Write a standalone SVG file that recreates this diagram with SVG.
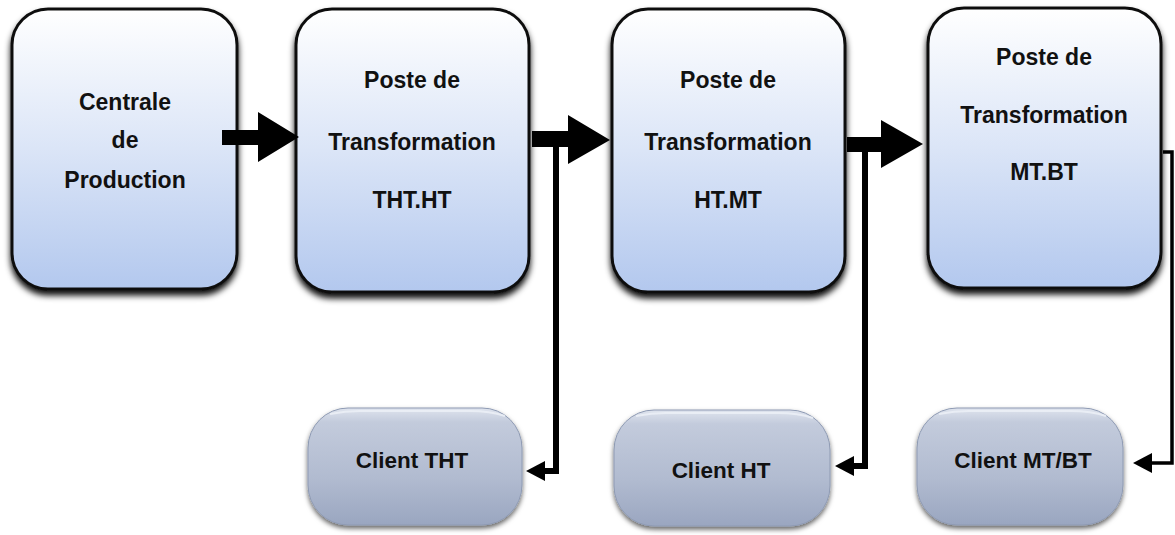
<svg xmlns="http://www.w3.org/2000/svg" width="1175" height="535" viewBox="0 0 1175 535">
<style>
.box{fill:url(#gBox);stroke:#111;stroke-width:3;filter:url(#sh)}
.cli{fill:url(#gCli);stroke:#8e9ab3;stroke-width:1;filter:url(#sh2)}
.hl{fill:none;stroke:#eef1f7;stroke-width:2;opacity:0.8}
text{font-family:"Liberation Sans",Arial,sans-serif;font-weight:bold;font-size:23px;fill:#111;text-anchor:middle}
.c{font-size:22.5px}
.arr{fill:#000}
.ln{fill:none;stroke:#000;stroke-width:6}
.ln2{fill:none;stroke:#000;stroke-width:3.5}
</style>
<defs>
<linearGradient id="gBox" x1="0" y1="0" x2="0" y2="1">
<stop offset="0" stop-color="#ffffff"/>
<stop offset="0.5" stop-color="#dbe5f7"/>
<stop offset="1" stop-color="#b3c8ee"/>
</linearGradient>
<linearGradient id="gCli" x1="0" y1="0" x2="0" y2="1">
<stop offset="0" stop-color="#dfe4ee"/>
<stop offset="0.12" stop-color="#c3cbdc"/>
<stop offset="0.6" stop-color="#b1bbd0"/>
<stop offset="1" stop-color="#9aa6c0"/>
</linearGradient>
<filter id="sh" x="-10%" y="-10%" width="120%" height="125%">
<feDropShadow dx="0" dy="5" stdDeviation="3" flood-color="#000" flood-opacity="0.95"/>
</filter>
<filter id="sh2" x="-10%" y="-10%" width="120%" height="130%">
<feDropShadow dx="0" dy="3" stdDeviation="2.5" flood-color="#000" flood-opacity="0.6"/>
</filter>
</defs>
<rect width="1175" height="535" fill="#fff"/>

<g id="centrale">
<rect class="box" x="12" y="9" width="225" height="280" rx="36"/>
<text x="125" y="110">Centrale</text>
<text x="125" y="148">de</text>
<text x="125" y="188">Production</text>
</g>
<g id="poste-tht-ht">
<rect class="box" x="296" y="9" width="233" height="283" rx="36"/>
<text x="412" y="88">Poste de</text>
<text x="412" y="150">Transformation</text>
<text x="412" y="208">THT.HT</text>
</g>
<g id="poste-ht-mt">
<rect class="box" x="612" y="9" width="233" height="283" rx="36"/>
<text x="728" y="88">Poste de</text>
<text x="728" y="150">Transformation</text>
<text x="728" y="208">HT.MT</text>
</g>
<g id="poste-mt-bt">
<rect class="box" x="928" y="8" width="233" height="280" rx="36"/>
<text x="1044" y="65">Poste de</text>
<text x="1044" y="123">Transformation</text>
<text x="1044" y="180">MT.BT</text>
</g>

<g id="client-tht">
<rect class="cli" x="308" y="408" width="214" height="117" rx="40"/>
<path class="hl" d="M330,414 Q345,411 360,411 L470,411 Q490,411 505,416"/>
<text class="c" x="412" y="468">Client THT</text>
</g>
<g id="client-ht">
<rect class="cli" x="614" y="410" width="216" height="116" rx="40"/>
<path class="hl" d="M636,416 Q651,413 666,413 L778,413 Q798,413 813,418"/>
<text class="c" x="721" y="478">Client HT</text>
</g>
<g id="client-mt-bt">
<rect class="cli" x="917" y="408" width="206" height="117" rx="40"/>
<path class="hl" d="M939,414 Q954,411 969,411 L1071,411 Q1091,411 1106,416"/>
<text class="c" x="1023" y="468">Client MT/BT</text>
</g>

<g id="connectors">
<polygon class="arr" points="222,130 258,130 258,112 299,137 258,162 258,145 222,145"/>
<polygon class="arr" points="532,131 568,131 568,115 610,140 568,164 568,147 532,147"/>
<polygon class="arr" points="847,137 881,137 881,120 923,144 881,168 881,152 847,152"/>
<polyline class="ln" points="556,145 556,471 540,471"/>
<polygon class="arr" points="526,471 545,461 545,481"/>
<polyline class="ln" points="865,150 865,466 849,466"/>
<polygon class="arr" points="835,466 854,456 854,476"/>
<polyline class="ln2" points="1163,152 1172,152 1172,463 1148,463"/>
<polygon class="arr" points="1133,463 1152,453 1152,473"/>
</g>
</svg>
